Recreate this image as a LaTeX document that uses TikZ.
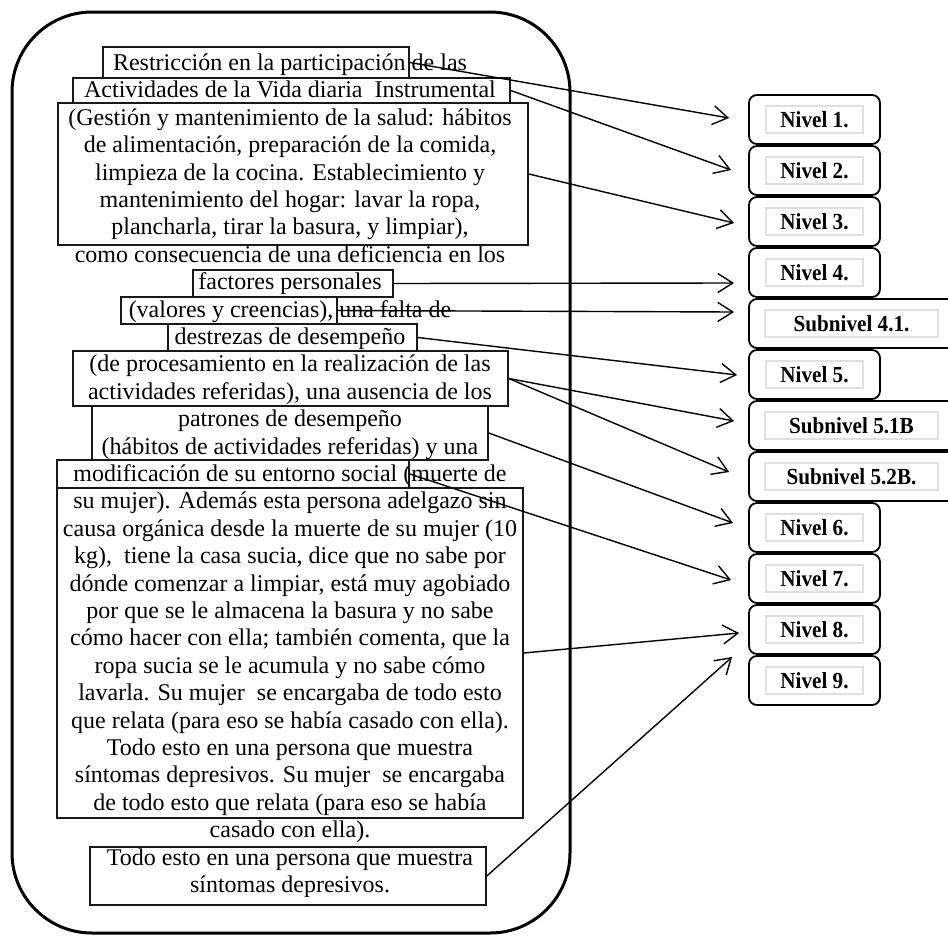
\documentclass[tikz,border=0pt]{standalone}
\usepackage{fontspec}
\setmainfont{Liberation Serif}
\newfontfamily\labfont[FakeStretch=0.92]{Liberation Serif}
\usetikzlibrary{arrows.meta,fit,calc}
\tikzset{
  txt/.style={inner sep=0pt, anchor=base, font=\fontsize{24}{27.4}\selectfont},
  bx/.style={draw=black!90, line width=1.6pt, inner sep=0pt},
  lvl/.style={draw, line width=1.8pt, rounded corners=8pt, minimum height=49pt, inner sep=0pt},
  lab/.style={draw=black!12, line width=1.2pt, minimum height=27pt, inner sep=0pt, font=\labfont\bfseries\fontsize{23}{26}\selectfont},
  arr/.style={line width=1.4pt, -{Straight Barb[length=15pt,width=19pt,line width=1.4pt]}},
}
\newcommand\TLine[2]{\node[txt] (L#1) at (290,{70.5+27.4*#1}) {#2};}
\begin{document}
\begin{tikzpicture}[x=1pt,y=-1pt]
\useasboundingbox (0,0) rectangle (948,937);
\node[draw, line width=3pt, rounded corners=80pt, inner sep=0pt, fit={(12,12) (570,933)}] (outer) {};
% text lines
\TLine{0}{Restricción en la participación de las}
\TLine{1}{Actividades de la Vida diaria\ \ Instrumental}
\TLine{2}{(Gestión y mantenimiento de la salud: hábitos}
\TLine{3}{de alimentación, preparación de la comida,}
\TLine{4}{limpieza de la cocina. Establecimiento y}
\TLine{5}{mantenimiento del hogar: lavar la ropa,}
\TLine{6}{plancharla, tirar la basura, y limpiar),}
\TLine{7}{como consecuencia de una deficiencia en los}
\TLine{8}{factores personales}
\TLine{9}{(valores y creencias), una falta de}
\TLine{10}{destrezas de desempeño}
\TLine{11}{(de procesamiento en la realización de las}
\TLine{12}{actividades referidas), una ausencia de los}
\TLine{13}{patrones de desempeño}
\TLine{14}{(hábitos de actividades referidas) y una}
\TLine{15}{modificación de su entorno social (muerte de}
\TLine{16}{su mujer). Además esta persona adelgazo sin}
\TLine{17}{causa orgánica desde la muerte de su mujer (10}
\TLine{18}{kg),\ \ tiene la casa sucia, dice que no sabe por}
\TLine{19}{dónde comenzar a limpiar, está muy agobiado}
\TLine{20}{por que se le almacena la basura y no sabe}
\TLine{21}{cómo hacer con ella; también comenta, que la}
\TLine{22}{ropa sucia se le acumula y no sabe cómo}
\TLine{23}{lavarla. Su mujer\ \ se encargaba de todo esto}
\TLine{24}{que relata (para eso se había casado con ella).}
\TLine{25}{Todo esto en una persona que muestra}
\TLine{26}{síntomas depresivos. Su mujer\ \ se encargaba}
\TLine{27}{de todo esto que relata (para eso se había}
\TLine{28}{casado con ella).}
\TLine{29}{Todo esto en una persona que muestra}
\TLine{30}{síntomas depresivos.}
% boxes
\node[bx, fit={(103,47) (409,78)}] (B1) {};
\node[bx, fit={(73,78) (510,103)}] (B2) {};
\node[bx, fit={(58,103) (528,245)}] (B3) {};
\node[bx, fit={(193,270) (393,297)}] (B4) {};
\node[bx, fit={(121,297) (337,324)}] (B5) {};
\node[bx, fit={(168,324) (417,351)}] (B6) {};
\node[bx, fit={(73,351) (508,406)}] (B7) {};
\node[bx, fit={(92,406) (488,460)}] (B8) {};
\node[bx, fit={(57,460) (409,488)}] (B9) {};
\node[bx, fit={(57,488) (523,818)}] (B10) {};
\node[bx, fit={(90,847) (486,905)}] (B11) {};
% levels
\node[lvl, minimum width=131pt] (N1) at (814.5,119.5) {};
\node[lab, minimum width=97pt] (M1) at (N1) {Nivel 1.};
\node[lvl, minimum width=131pt] (N2) at (814.5,170.5) {};
\node[lab, minimum width=97pt] (M2) at (N2) {Nivel 2.};
\node[lvl, minimum width=131pt] (N3) at (814.5,221.5) {};
\node[lab, minimum width=97pt] (M3) at (N3) {Nivel 3.};
\node[lvl, minimum width=131pt] (N4) at (814.5,272.5) {};
\node[lab, minimum width=97pt] (M4) at (N4) {Nivel 4.};
\node[lvl, minimum width=207pt] (S41) at (852.5,323.5) {};
\node[lab, minimum width=173pt] (M41) at (851.5,323.5) {Subnivel 4.1.};
\node[lvl, minimum width=131pt] (N5) at (814.5,374.5) {};
\node[lab, minimum width=97pt] (M5) at (N5) {Nivel 5.};
\node[lvl, minimum width=207pt] (S51) at (852.5,425.5) {};
\node[lab, minimum width=173pt] (M51) at (851.5,425.5) {Subnivel 5.1B};
\node[lvl, minimum width=207pt] (S52) at (852.5,476.5) {};
\node[lab, minimum width=173pt] (M52) at (851.5,476.5) {Subnivel 5.2B.};
\node[lvl, minimum width=131pt] (N6) at (814.5,527.5) {};
\node[lab, minimum width=97pt] (M6) at (N6) {Nivel 6.};
\node[lvl, minimum width=131pt] (N7) at (814.5,578.5) {};
\node[lab, minimum width=97pt] (M7) at (N7) {Nivel 7.};
\node[lvl, minimum width=131pt] (N8) at (814.5,629.5) {};
\node[lab, minimum width=97pt] (M8) at (N8) {Nivel 8.};
\node[lvl, minimum width=131pt] (N9) at (814.5,680.5) {};
\node[lab, minimum width=97pt] (M9) at (N9) {Nivel 9.};
% arrows
\draw[arr] (B1.east) -- ($(N1.west)+(-19,-1.5)$);
\draw[arr] (B2.east) -- ($(N2.west)+(-17,-0.5)$);
\draw[arr] (B3.east) -- ($(N3.west)+(-14,1.5)$);
\draw[arr] (B4.east) -- ($(N4.west)+(-14,10.5)$);
\draw[arr] (B5.east) -- ($(S41.west)+(-14,-11.5)$);
\draw[arr] (B6.east) -- ($(N5.west)+(-11,0.5)$);
\draw[arr] (B7.east) -- ($(S51.west)+(-14,-4.5)$);
\draw[arr] (B7.east) -- ($(S52.west)+(-19,-4.5)$);
\draw[arr] (B8.east) -- ($(N6.west)+(-15,-4.5)$);
\draw[arr] (B9.east) -- ($(N7.west)+(-17,1.5)$);
\draw[arr] (B10.east) -- ($(N8.west)+(-9,3.5)$);
\draw[arr] (B11.east) -- ($(N9.west)+(-16,-23.5)$);
\end{tikzpicture}
\end{document}
